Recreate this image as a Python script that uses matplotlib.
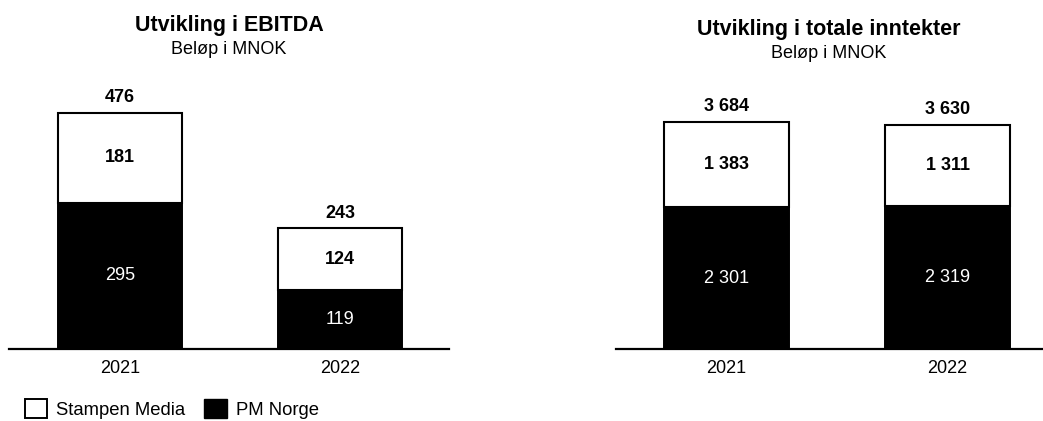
import matplotlib
matplotlib.use("Agg")
import matplotlib.pyplot as plt
from matplotlib.patches import Patch

plt.rcParams['font.family'] = ['Liberation Sans', 'DejaVu Sans']

years = ["2021", "2022"]
ebitda_pm = [295, 119]
ebitda_stampen = [181, 124]
inntekter_pm = [2301, 2319]
inntekter_stampen = [1383, 1311]


def fmt(v):
    # norsk tusenskille
    return f"{v:,}".replace(",", " ")


def draw_panel(ax, pm, stampen, ymax, xlim, width):
    x = list(range(len(years)))
    ax.bar(x, pm, width=width, color="black", edgecolor="black", linewidth=1.4)
    ax.bar(x, stampen, bottom=pm, width=width, color="white", edgecolor="black", linewidth=1.5)
    for i in x:
        total = pm[i] + stampen[i]
        ax.text(i, pm[i] / 2, fmt(pm[i]), ha="center", va="center", color="white", fontsize=13)
        ax.text(i, pm[i] + stampen[i] / 2, fmt(stampen[i]), ha="center", va="center",
                color="black", fontsize=13, fontweight="bold")
        ax.annotate(fmt(total), (i, total), xytext=(0, 5), textcoords="offset points",
                    ha="center", va="bottom", fontsize=13, fontweight="bold")
    ax.set_xticks(x)
    ax.set_xticklabels(years, fontsize=13)
    ax.set_xlim(*xlim)
    ax.set_ylim(0, ymax)
    ax.set_yticks([])
    for s in ["top", "left", "right"]:
        ax.spines[s].set_visible(False)
    ax.spines["bottom"].set_linewidth(1.6)
    ax.tick_params(axis="x", length=0, pad=8)


fig = plt.figure(figsize=(10.43, 4.21), dpi=100)
W, H = 1043, 421

ax1 = fig.add_axes([9 / W, 72 / H, 440 / W, 297.6 / H])
draw_panel(ax1, ebitda_pm, ebitda_stampen, 600, (-0.5045, 1.495), 0.564)

ax2 = fig.add_axes([616 / W, 72 / H, 427 / W, 295.7 / H])
draw_panel(ax2, inntekter_pm, inntekter_stampen, 4800, (-0.5, 1.432), 0.566)

fig.text(229 / W, 1 - 26 / H, "Utvikling i EBITDA", ha="center", va="center",
         fontsize=15.5, fontweight="bold")
fig.text(229 / W, 1 - 49 / H, "Beløp i MNOK", ha="center", va="center", fontsize=13)
fig.text(829 / W, 1 - 30 / H, "Utvikling i totale inntekter", ha="center", va="center",
         fontsize=15.5, fontweight="bold")
fig.text(829 / W, 1 - 53 / H, "Beløp i MNOK", ha="center", va="center", fontsize=13)

handles = [Patch(facecolor="white", edgecolor="black", linewidth=1.4, label="Stampen Media"),
           Patch(facecolor="black", edgecolor="black", label="PM Norge")]
fig.legend(handles=handles, loc="center left", bbox_to_anchor=(25 / W, 1 - 409 / H), ncol=2,
           frameon=False, fontsize=13.3, handlelength=1.2, handleheight=1.2,
           handletextpad=0.49, columnspacing=1.03, borderaxespad=0, borderpad=0)

fig.savefig("out.png", dpi=100)
